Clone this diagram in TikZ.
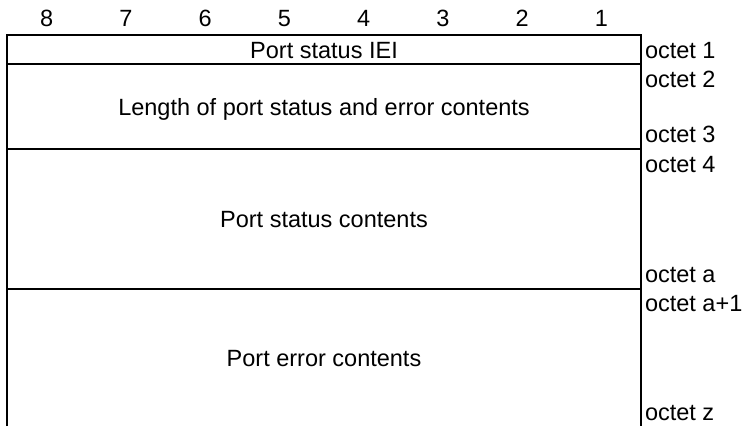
\documentclass[tikz,border=0pt]{standalone}
\usepackage{fontspec}
\setmainfont{Liberation Sans}
\usetikzlibrary{calc,positioning}

\begin{document}
\begin{tikzpicture}[x=1pt,y=-1pt,line width=2pt,
    every node/.style={font=\fontsize{23.5}{28}\selectfont,inner sep=0pt,
      text height=17pt,text depth=0pt},
    octet/.style={anchor=west}]
  \useasboundingbox (0,0) rectangle (744,426);

  % bit numbers
  \foreach \b in {1,...,8}
    \node(bit\b) at ({7+79.25*(8.5-\b)},18){\b};

  % frame corners
  \coordinate(l0) at (7,35);    \coordinate(r0) at (641,35);
  \coordinate(l1) at (7,64);    \coordinate(r1) at (641,64);
  \coordinate(l2) at (7,149);   \coordinate(r2) at (641,149);
  \coordinate(l3) at (7,289);   \coordinate(r3) at (641,289);
  \coordinate(lz) at (7,426);   \coordinate(rz) at (641,426);
  \draw (lz) -- (l0) -- (r0) -- (rz);
  \draw (l1) -- (r1);
  \draw (l2) -- (r2);
  \draw (l3) -- (r3);

  % fields
  \node(iei) at ($(l0)!0.5!(r1)$){Port status IEI};
  \node(len) at ($(l1)!0.5!(r2)$){Length of port status and error contents};
  \node(stat) at ($(l2)!0.5!(r3)$){Port status contents};
  \node(err) at ($(l3)!0.5!(rz)$){Port error contents};

  % octets
  \node[octet](o1) at (644,50){octet 1};
  \node[octet](o2) at (644,79){octet 2};
  \node[octet](o3) at (644,134){octet 3};
  \node[octet](o4) at (644,164){octet 4};
  \node[octet](oa) at (644,274){octet a};
  \node[octet](oa1) at (644,303){octet a+1};
  \node[octet](oz) at (644,412){octet z};
\end{tikzpicture}
\end{document}
